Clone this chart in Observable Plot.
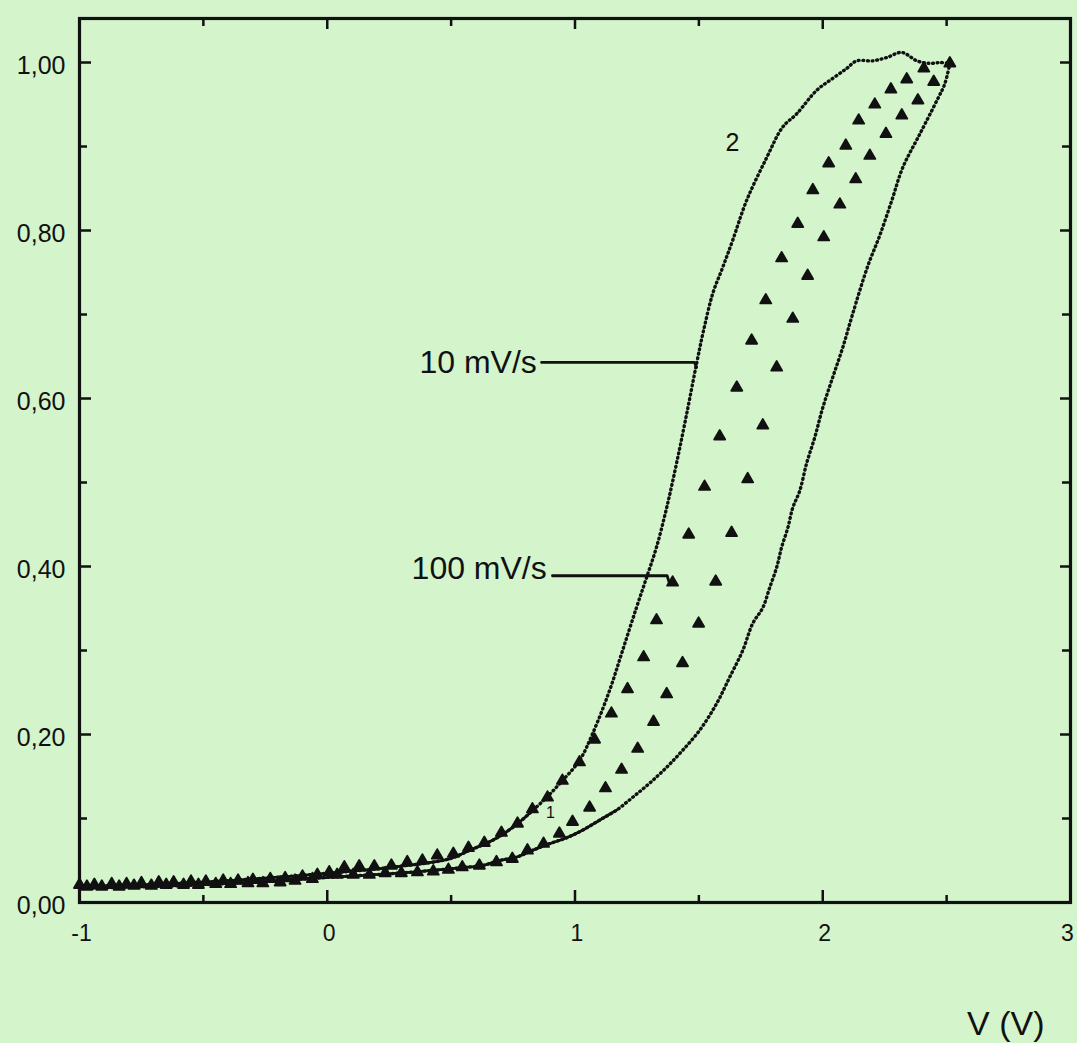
<!DOCTYPE html>
<html>
<head>
<meta charset="utf-8">
<script src="https://cdn.jsdelivr.net/npm/d3@7"></script>
<script src="https://cdn.jsdelivr.net/npm/@observablehq/plot@0.6"></script>
<style>
  html, body { margin: 0; padding: 0; background: #d4f4cc; }
  #chart svg { display: block; }
</style>
</head>
<body>
<div id="chart"></div>
<script>
// ---- 10 mV/s loop : branch "2" (upper-left, return scan) ----
const slowUpperV = [-1.00, -0.517, 0.008, 0.291, 0.493, 0.574, 0.667, 0.747, 0.816, 0.885, 0.949, 1.018, 1.071, 1.139, 1.192, 1.248, 1.289, 1.329, 1.370, 1.410, 1.451, 1.491, 1.519, 1.556, 1.596, 1.636, 1.693, 1.774, 1.838, 1.895, 1.976, 2.040, 2.097, 2.137, 2.202, 2.259, 2.319, 2.380, 2.432, 2.473, 2.513];
const slowUpperT = [0.019, 0.024, 0.035, 0.043, 0.052, 0.062, 0.074, 0.089, 0.106, 0.125, 0.145, 0.169, 0.201, 0.252, 0.300, 0.351, 0.387, 0.423, 0.470, 0.523, 0.582, 0.642, 0.681, 0.725, 0.756, 0.788, 0.836, 0.887, 0.923, 0.939, 0.967, 0.981, 0.993, 1.002, 1.002, 1.006, 1.012, 1.002, 0.999, 1.000, 0.999];

// ---- 10 mV/s loop : branch "1" (lower-right, forward scan) ----
const slowLowerV = [-1.00, -0.517, 0.008, 0.291, 0.493, 0.562, 0.626, 0.695, 0.764, 0.828, 0.897, 0.966, 1.030, 1.099, 1.168, 1.232, 1.301, 1.370, 1.434, 1.503, 1.572, 1.624, 1.677, 1.717, 1.758, 1.786, 1.814, 1.834, 1.859, 1.879, 1.907, 1.935, 1.968, 2.000, 2.040, 2.081, 2.121, 2.182, 2.230, 2.279, 2.323, 2.392, 2.461, 2.493, 2.513];
const slowLowerT = [0.017, 0.021, 0.030, 0.035, 0.040, 0.042, 0.044, 0.050, 0.054, 0.062, 0.070, 0.077, 0.086, 0.098, 0.110, 0.125, 0.142, 0.161, 0.181, 0.205, 0.237, 0.268, 0.300, 0.332, 0.351, 0.375, 0.399, 0.423, 0.446, 0.470, 0.490, 0.523, 0.554, 0.589, 0.625, 0.661, 0.701, 0.758, 0.794, 0.836, 0.875, 0.915, 0.955, 0.975, 0.999];

// ---- 100 mV/s (triangles) : upper-left branch ----
const fastUpperV = [-1.00, -0.94, -0.87, -0.81, -0.75, -0.68, -0.62, -0.55, -0.49, -0.42, -0.36, -0.30, -0.23, -0.17, -0.10, -0.04,
  0.008, 0.069, 0.129, 0.190, 0.259, 0.323, 0.384, 0.444, 0.509, 0.570, 0.634, 0.703, 0.768, 0.828, 0.889, 0.949, 1.018, 1.079, 1.147, 1.212, 1.277, 1.329, 1.394, 1.459, 1.523, 1.584, 1.653, 1.713, 1.770, 1.834, 1.899, 1.960, 2.024, 2.093, 2.145, 2.210, 2.275, 2.339, 2.408];
const fastUpperT = [0.021, 0.021, 0.022, 0.022, 0.023, 0.024, 0.024, 0.025, 0.025, 0.026, 0.026, 0.027, 0.028, 0.029, 0.031, 0.033,
  0.036, 0.042, 0.043, 0.043, 0.044, 0.048, 0.050, 0.056, 0.058, 0.065, 0.071, 0.083, 0.094, 0.111, 0.125, 0.145, 0.167, 0.194, 0.225, 0.254, 0.292, 0.336, 0.381, 0.438, 0.495, 0.555, 0.613, 0.669, 0.717, 0.767, 0.808, 0.848, 0.880, 0.901, 0.931, 0.950, 0.968, 0.980, 0.993];

// ---- 100 mV/s (triangles) : lower-right branch ----
const fastLowerV = [-0.97, -0.91, -0.84, -0.78, -0.71, -0.65, -0.58, -0.52, -0.45, -0.39, -0.32, -0.26, -0.19, -0.13, -0.06,
  0.040, 0.105, 0.170, 0.234, 0.299, 0.364, 0.428, 0.489, 0.545, 0.614, 0.683, 0.747, 0.808, 0.873, 0.937, 0.990, 1.059, 1.123, 1.188, 1.253, 1.317, 1.370, 1.434, 1.499, 1.568, 1.632, 1.697, 1.758, 1.814, 1.879, 1.939, 2.004, 2.069, 2.133, 2.190, 2.255, 2.319, 2.384, 2.448, 2.513];
const fastLowerT = [0.019, 0.019, 0.019, 0.020, 0.020, 0.021, 0.021, 0.021, 0.022, 0.022, 0.023, 0.023, 0.024, 0.026, 0.028,
  0.033, 0.033, 0.033, 0.035, 0.035, 0.036, 0.037, 0.039, 0.042, 0.044, 0.048, 0.052, 0.062, 0.070, 0.082, 0.096, 0.113, 0.136, 0.158, 0.183, 0.215, 0.248, 0.285, 0.332, 0.382, 0.440, 0.504, 0.568, 0.637, 0.695, 0.746, 0.792, 0.831, 0.861, 0.889, 0.915, 0.937, 0.955, 0.977, 0.999];

// ---- axis ticks ----
const xTickLabels = [-1, 0, 1, 2];
const xEdgeLabels = [3];
const xMajorTicks = [0, 1, 2];
const xMinorTicks = [-0.5, 0.5, 1.5, 2.5];
const yTickLabels = [0, 0.2, 0.4, 0.6, 0.8, 1.0];
const yMajorTicks = [0.2, 0.4, 0.6, 0.8, 1.0];
const yMinorTicks = [0.1, 0.3, 0.5, 0.7, 0.9];

// ---- annotations ----
const rateLabels = ["10 mV/s", "100 mV/s"];
const rateLabelV = [0.846, 0.886];
const rateLabelT = [0.642, 0.397];
const leader10V = [0.865, 1.482, 1.491];
const leader10T = [0.643, 0.643, 0.637];
const leader100V = [0.909, 1.372, 1.380];
const leader100T = [0.389, 0.389, 0.381];
const branchLabels = ["2", "1"];
const branchLabelV = [1.636, 0.901];
const branchLabelT = [0.904, 0.107];
const xAxisTitle = "V (V)";

// tables
const zip = (vs, ts) => vs.map((v, i) => ({v, t: ts[i]}));
const slowUpper = zip(slowUpperV, slowUpperT);
const slowLower = zip(slowLowerV, slowLowerT);
const fast = zip(fastUpperV, fastUpperT).concat(zip(fastLowerV, fastLowerT));
const leader10 = zip(leader10V, leader10T);
const leader100 = zip(leader100V, leader100T);
const rates = rateLabels.map((s, i) => ({s, v: rateLabelV[i], t: rateLabelT[i]}));
const branches = branchLabels.map((s, i) => ({s, v: branchLabelV[i], t: branchLabelT[i]}));

const yTop = 1.0524;
const kx = 4 / 991;   // data units per pixel (x)
const ky = yTop / 884; // data units per pixel (y)
const ink = "#111";
const dotted = {x: "v", y: "t", stroke: ink, strokeWidth: 3.4, strokeDasharray: "0.8 3.8", strokeLinecap: "round", curve: "catmull-rom"};
const solidLow = {x: "v", y: "t", stroke: ink, strokeWidth: 2.8, curve: "catmull-rom", filter: d => d.t < 0.12};

const chart = Plot.plot({
  width: 1077,
  height: 1043,
  marginLeft: 79,
  marginRight: 7,
  marginTop: 18,
  marginBottom: 141,
  x: {domain: [-1, 3], axis: null},
  y: {domain: [0, yTop], axis: null},
  style: {background: "#d4f4cc", fontFamily: "'Liberation Sans', Arial, Helvetica, sans-serif", color: ink},
  marks: [
    // inward ticks: bottom & top
    Plot.ruleX(xMajorTicks, {x: d => d, y1: 0, y2: 12 * ky, stroke: ink, strokeWidth: 2.5}),
    Plot.ruleX(xMinorTicks, {x: d => d, y1: 0, y2: 7 * ky, stroke: ink, strokeWidth: 2.5}),
    Plot.ruleX(xMajorTicks, {x: d => d, y1: yTop, y2: yTop - 11 * ky, stroke: ink, strokeWidth: 2.5}),
    Plot.ruleX(xMinorTicks, {x: d => d, y1: yTop, y2: yTop - 8 * ky, stroke: ink, strokeWidth: 2.5}),
    // inward ticks: left & right
    Plot.ruleY(yMajorTicks, {y: d => d, x1: -1, x2: -1 + 12 * kx, stroke: ink, strokeWidth: 2.5}),
    Plot.ruleY(yMinorTicks, {y: d => d, x1: -1, x2: -1 + 8 * kx, stroke: ink, strokeWidth: 2.5}),
    Plot.ruleY(yMajorTicks, {y: d => d, x1: 3, x2: 3 - 10 * kx, stroke: ink, strokeWidth: 2.5}),
    Plot.ruleY(yMinorTicks, {y: d => d, x1: 3, x2: 3 - 8 * kx, stroke: ink, strokeWidth: 2.5}),
    Plot.frame({stroke: ink, strokeWidth: 3.2}),
    // tick labels
    Plot.text(xTickLabels, {x: d => d, frameAnchor: "bottom", text: d => String(d), lineAnchor: "top", dy: 22, dx: 2, fontSize: 23, fill: ink}),
    Plot.text(xEdgeLabels, {x: d => d, frameAnchor: "bottom", text: d => String(d), lineAnchor: "top", dy: 22, dx: -3, fontSize: 23, fill: ink}),
    Plot.text(yTickLabels, {y: d => d, frameAnchor: "left", text: d => d.toFixed(2).replace(".", ","), textAnchor: "end", dx: -14, dy: 3, fontSize: 25, fill: ink}),
    Plot.text([xAxisTitle], {frameAnchor: "bottom-right", text: d => d, textAnchor: "end", lineAnchor: "bottom", dx: -26, dy: 132, fontSize: 34, fill: ink}),
    // 10 mV/s loop
    Plot.line(slowUpper, solidLow),
    Plot.line(slowLower, solidLow),
    Plot.line(slowUpper, dotted),
    Plot.line(slowLower, dotted),
    // 100 mV/s triangles
    Plot.dot(fast, {x: "v", y: "t", symbol: "triangle", r: 4.1, fill: ink, stroke: ink, strokeWidth: 1.8, strokeLinejoin: "round"}),
    // leaders & labels
    Plot.line(leader10, {x: "v", y: "t", stroke: ink, strokeWidth: 2.8}),
    Plot.line(leader100, {x: "v", y: "t", stroke: ink, strokeWidth: 2.8}),
    Plot.text(rates, {x: "v", y: "t", text: "s", textAnchor: "end", fontSize: 32, fill: ink}),
    Plot.text(branches.slice(0, 1), {x: "v", y: "t", text: "s", fontSize: 25, fill: ink}),
    Plot.text(branches.slice(1), {x: "v", y: "t", text: "s", fontSize: 16, fill: ink})
  ]
});
document.getElementById("chart").appendChild(chart);
</script>
</body>
</html>
